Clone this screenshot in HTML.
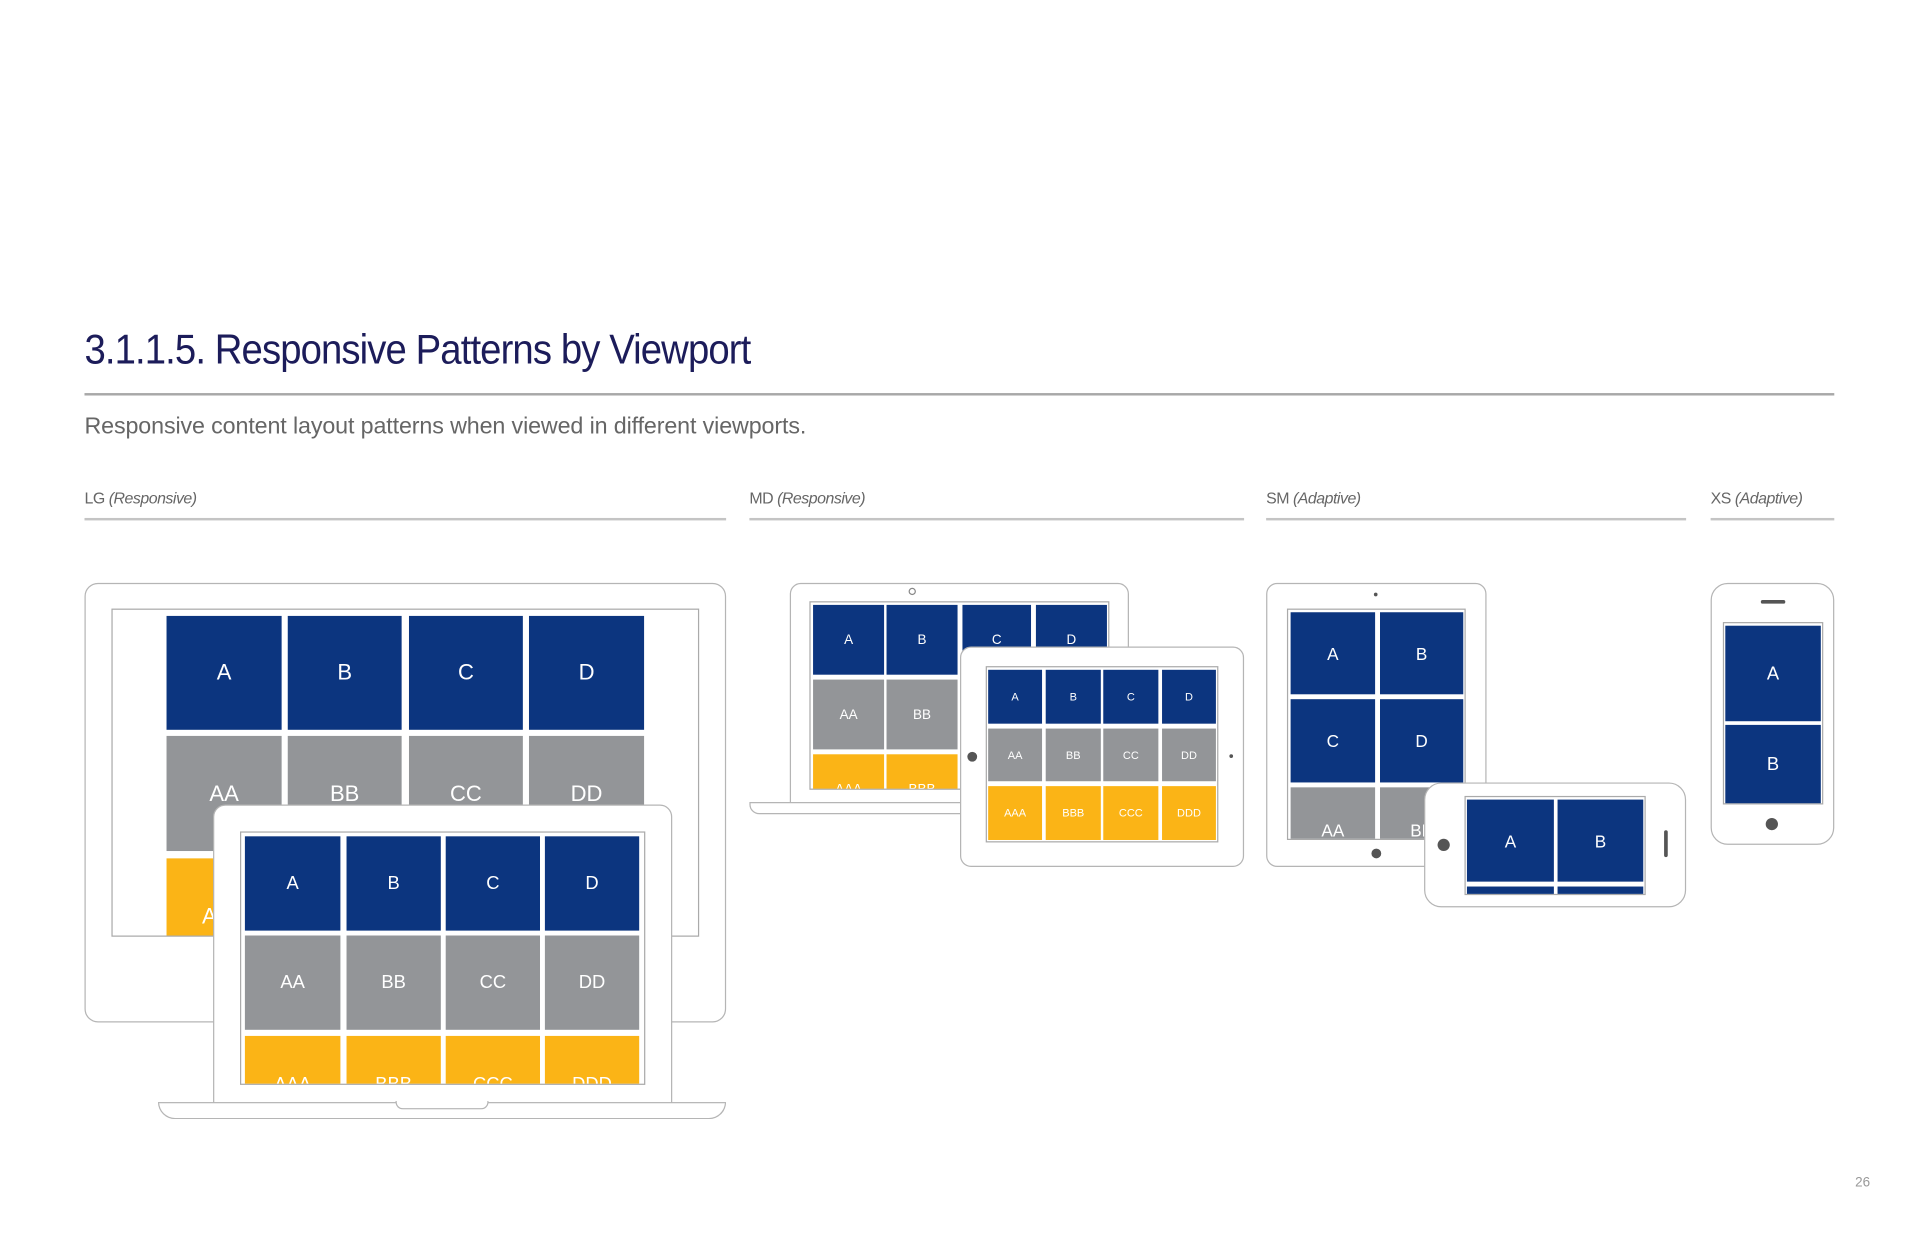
<!DOCTYPE html>
<html><head><meta charset="utf-8"><style>
html,body{margin:0;padding:0;background:#fff}
body{width:1920px;height:1242px;overflow:hidden;position:relative;font-family:"Liberation Sans",sans-serif}
#page{position:absolute;left:0;top:0;width:1568px;height:1014px;transform:scale(1.22449);transform-origin:0 0}
.abs{position:absolute;box-sizing:border-box}
.dev{position:absolute;box-sizing:border-box;background:#fff;border:1.3px solid #b5b5b5}
.scr{position:absolute;box-sizing:border-box;overflow:hidden;background:#fff;border:1px solid #aaa}
.tile{position:absolute;display:flex;align-items:center;justify-content:center;color:#fff}
.lbl{position:absolute;font-size:13px;color:#666;letter-spacing:-0.4px}
.lbl i{font-style:italic}
.rule{position:absolute;height:2px;background:#c4c4c4}
.dot{position:absolute;border-radius:50%;background:#555}
</style></head><body>
<div id="page">
<div class="abs" style="left:69px;top:267px;font-size:34px;color:#1c1c5a;letter-spacing:-0.8px;transform:scaleX(0.92);transform-origin:0 0;white-space:nowrap">3.1.1.5. Responsive Patterns by Viewport</div>
<div class="rule" style="left:69px;top:321px;width:1429px;background:#a8a8a8"></div>
<div class="abs" style="left:69px;top:338px;font-size:19px;color:#666;letter-spacing:-0.1px">Responsive content layout patterns when viewed in different viewports.</div>

<div class="lbl" style="left:69px;top:399px">LG <i>(Responsive)</i></div>
<div class="lbl" style="left:612px;top:399px">MD <i>(Responsive)</i></div>
<div class="lbl" style="left:1034px;top:399px">SM <i>(Adaptive)</i></div>
<div class="lbl" style="left:1397px;top:399px">XS <i>(Adaptive)</i></div>
<div class="rule" style="left:69px;top:423px;width:524px"></div>
<div class="rule" style="left:612px;top:423px;width:404px"></div>
<div class="rule" style="left:1034px;top:423px;width:343px"></div>
<div class="rule" style="left:1397px;top:423px;width:101px"></div>

<!-- LG monitor -->
<div class="dev" style="left:69px;top:476px;width:524px;height:359px;border-radius:11px"></div>
<div class="scr" id="s1" style="left:91px;top:497px;width:480px;height:268px"></div>
<!-- LG laptop -->
<div class="dev" style="left:174px;top:657px;width:375px;height:245px;border-radius:10px 10px 0 0"></div>
<div class="scr" id="s2" style="left:196px;top:679px;width:331px;height:207px"></div>
<div class="dev" style="left:129px;top:900px;width:464px;height:14px;border-radius:0 0 14px 14px"></div>
<div class="dev" style="left:323px;top:899px;width:76px;height:7px;border-top:none;border-radius:0 0 6px 6px"></div>

<!-- MD laptop -->
<div class="dev" style="left:645px;top:476px;width:277px;height:181px;border-radius:9px 9px 0 0"></div>
<div class="dot" style="left:742px;top:480px;width:4px;height:4px;background:#fff;border:1px solid #888"></div>
<div class="scr" id="s3" style="left:661px;top:491px;width:245px;height:154px"></div>
<div class="dev" style="left:612px;top:655px;width:200px;height:10px;border-radius:0 0 8px 8px"></div>
<!-- MD tablet -->
<div class="dev" style="left:784px;top:528px;width:232px;height:180px;border-radius:9px"></div>
<div class="dot" style="left:790px;top:614px;width:8px;height:8px"></div>
<div class="dot" style="left:1004px;top:616px;width:3px;height:3px"></div>
<div class="scr" id="s4" style="left:805px;top:544px;width:190px;height:144px"></div>

<!-- SM tablet -->
<div class="dev" style="left:1034px;top:476px;width:180px;height:232px;border-radius:9px"></div>
<div class="dot" style="left:1122px;top:484px;width:3px;height:3px"></div>
<div class="dot" style="left:1120px;top:693px;width:8px;height:8px"></div>
<div class="scr" id="s5" style="left:1051px;top:497px;width:146px;height:189px"></div>
<!-- SM phone -->
<div class="dev" style="left:1163px;top:639px;width:214px;height:102px;border-radius:14px"></div>
<div class="dot" style="left:1174px;top:685px;width:10px;height:10px"></div>
<div class="abs" style="left:1359px;top:678px;width:3px;height:22px;background:#555;border-radius:2px"></div>
<div class="scr" id="s6" style="left:1196px;top:650px;width:148px;height:81px"></div>

<!-- XS phone -->
<div class="dev" style="left:1397px;top:476px;width:101px;height:214px;border-radius:14px"></div>
<div class="abs" style="left:1438px;top:490px;width:20px;height:3px;background:#555;border-radius:2px"></div>
<div class="dot" style="left:1442px;top:668px;width:10px;height:10px"></div>
<div class="scr" id="s7" style="left:1407px;top:508px;width:82px;height:149px"></div>

<div class="abs" style="left:1515px;top:960px;font-size:11px;color:#999">26</div>
</div>
<script>
const rowLabels = [["A","B","C","D"],["AA","BB","CC","DD"],["AAA","BBB","CCC","DDD"]];
const rowColors = ["#0c357f","#939598","#fbb416"];
const screens = [
 {id:"s1",ox:91,oy:497,cols:[[136,94],[235,93],[334,93],[432,94]],rows:[[503,93],[601,94],[701,94]],fs:18,labels:rowLabels},
 {id:"s2",ox:196,oy:679,cols:[[200,78],[283,77],[364,77],[445,77]],rows:[[683,77],[764,77],[846,78]],fs:15,labels:rowLabels},
 {id:"s3",ox:661,oy:491,cols:[[664,58],[724,58],[786,56],[846,58]],rows:[[494,57],[555,57],[616,57]],fs:11,labels:rowLabels},
 {id:"s4",ox:805,oy:544,cols:[[807,44],[854,45],[901,45],[949,44]],rows:[[547,44],[595,43],[642,44]],fs:9,labels:rowLabels},
 {id:"s5",ox:1051,oy:497,cols:[[1054,69],[1127,68]],rows:[[500,67],[571,68],[643,70]],fs:14,labels:[["A","B"],["C","D"],["AA","BB"]],colors:["#0c357f","#0c357f","#939598"]},
 {id:"s6",ox:1196,oy:650,cols:[[1198,71],[1272,70]],rows:[[653,67],[724,67]],fs:14,labels:[["A","B"],["",""]],colors:["#0c357f","#0c357f"]},
 {id:"s7",ox:1407,oy:508,cols:[[1409,78]],rows:[[511,78],[592,65]],fs:15,labels:[["A"],["B"]],colors:["#0c357f","#0c357f"]}
];
screens.forEach(s=>{
  const p=document.getElementById(s.id);
  const colors=s.colors||rowColors;
  s.rows.forEach((r,ri)=>{
    s.cols.forEach((c,ci)=>{
      const t=document.createElement('div');
      t.className='tile';
      
      
      t.style.left=(c[0]-s.ox-1)+'px';
      t.style.top=(r[0]-s.oy-1)+'px';
      t.style.width=c[1]+'px';
      t.style.height=r[1]+'px';
      t.style.background=colors[ri];
      t.style.fontSize=s.fs+'px';
      t.textContent=s.labels[ri][ci];
      p.appendChild(t);
    });
  });
});
</script>
</body></html>
